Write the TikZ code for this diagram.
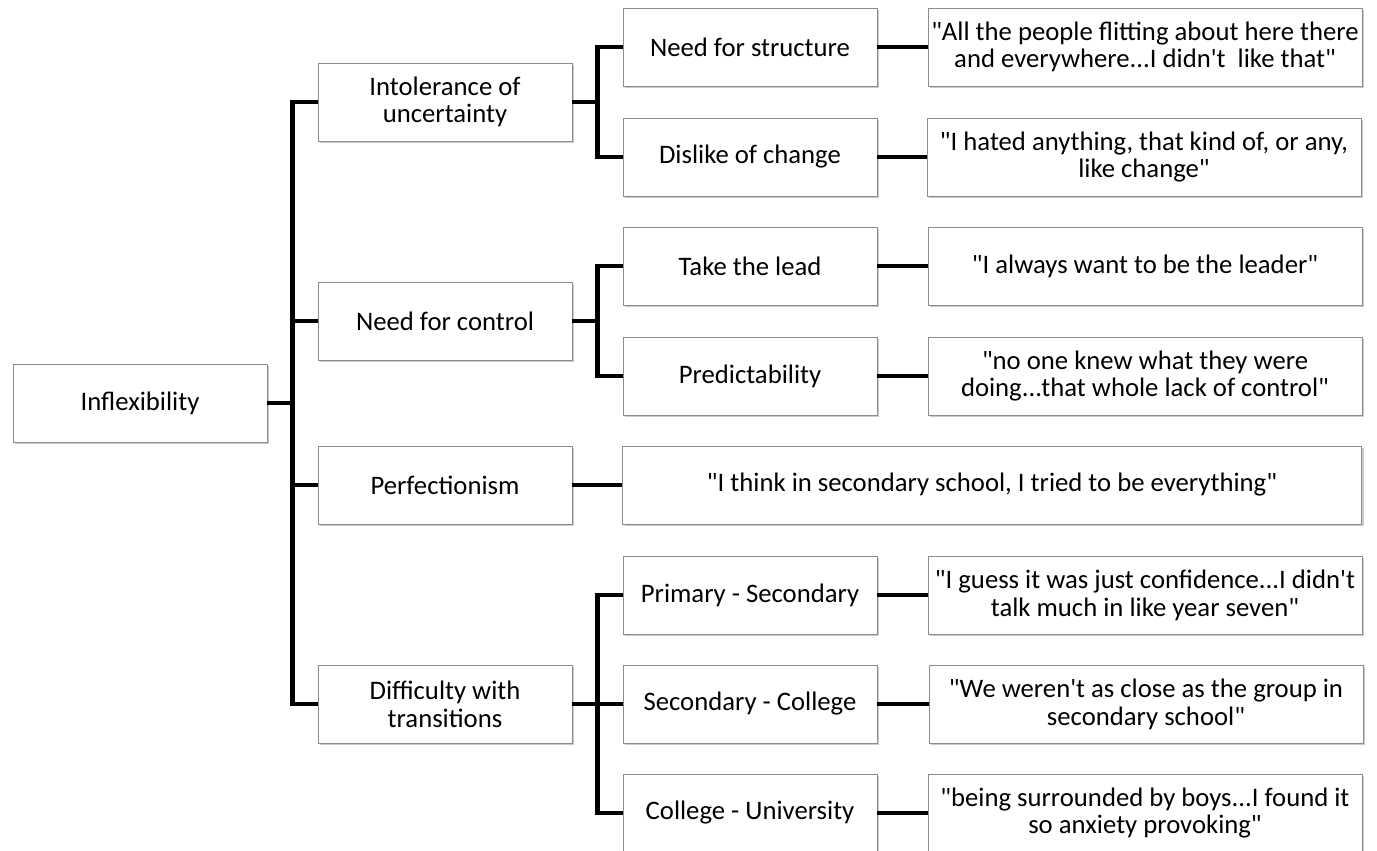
\documentclass[tikz,border=0pt]{standalone}
\usepackage{fontspec}
\setmainfont{Carlito}[Ligatures=TeXOff]
\usetikzlibrary{positioning,calc,shadows}
\tikzset{
  x=0.02cm, y=-0.02cm,
  box/.style={draw=black!45, line width=0.5pt, fill=white, align=center,
              font=\fontsize{15.2}{15.8}\selectfont, inner sep=1pt,
              minimum width=5.08cm, minimum height=1.56cm,
              drop shadow={shadow xshift=1.2pt, shadow yshift=-1.4pt,
                           opacity=0.35, fill=black!60}},
  theme/.style={box},
  quote/.style={box, minimum width=8.68cm},
  longquote/.style={box, minimum width=14.78cm},
  % thick black elbows of the tree
  link/.style={line width=2.6pt, black, line join=miter},
}

\begin{document}
\begin{tikzpicture}
\useasboundingbox (0,0) rectangle (1377,851);

%% ── root and main themes ──────────────────────────────────────────────────
\node[theme] (root) at (140,403) {Inflexibility};

\node[theme] (unc)  at (445,102) {Intolerance of\\uncertainty};
\node[theme] (ctrl) at (445,321) {Need for control};
\node[theme] (perf) at (445,485) {Perfectionism};
\node[theme] (tran) at (445,704) {Difficulty with\\transitions};

%% ── sub-themes ────────────────────────────────────────────────────────────
\node[theme] (struc) at (750,47)  {Need for structure};
\node[theme] (chng)  at (750,157) {Dislike of change};
\node[theme] (lead)  at (750,266) {Take the lead};
\node[theme] (pred)  at (750,376) {Predictability};
\node[theme] (prim)  at (750,595) {Primary - Secondary};
\node[theme] (sec)   at (750,704) {Secondary - College};
\node[theme] (coll)  at (750,813) {College - University};

%% ── quotes ────────────────────────────────────────────────────────────────
\node[quote] (qstruc) at (1145,47)
  {"All the people flitting about here there\\and everywhere...I didn't\ \ like that"};
\node[quote] (qchng) at (1144,157)
  {"I hated anything, that kind of, or any,\\like change"};
\node[quote] (qlead) at (1145,266) {"I always want to be the leader"};
\node[quote] (qpred) at (1145,376)
  {"no one knew what they were\\doing...that whole lack of control"};
\node[longquote] (qperf) at (992,485)
  {"I think in secondary school, I tried to be everything"};
\node[quote] (qprim) at (1145,595)
  {"I guess it was just confidence...I didn't\\talk much in like year seven"};
\node[quote] (qsec) at (1146,704)
  {"We weren't as close as the group in\\secondary school"};
\node[quote] (qcoll) at (1145,813)
  {"being surrounded by boys...I found it\\so anxiety provoking"};

%% ── tree connectors ───────────────────────────────────────────────────────
\foreach \kid in {unc,ctrl,perf,tran}
  \draw[link] (root.east) -- ++(25,0) |- (\kid.west);
\foreach \kid in {struc,chng}
  \draw[link] (unc.east) -- ++(25,0) |- (\kid.west);
\foreach \kid in {lead,pred}
  \draw[link] (ctrl.east) -- ++(25,0) |- (\kid.west);
\foreach \kid in {prim,sec,coll}
  \draw[link] (tran.east) -- ++(25,0) |- (\kid.west);

\draw[link] (perf.east) -- (qperf.west);
\foreach \src/\dst in {struc/qstruc,chng/qchng,lead/qlead,pred/qpred,
                       prim/qprim,sec/qsec,coll/qcoll}
  \draw[link] (\src.east) -- (\dst.west);

\end{tikzpicture}
\end{document}
